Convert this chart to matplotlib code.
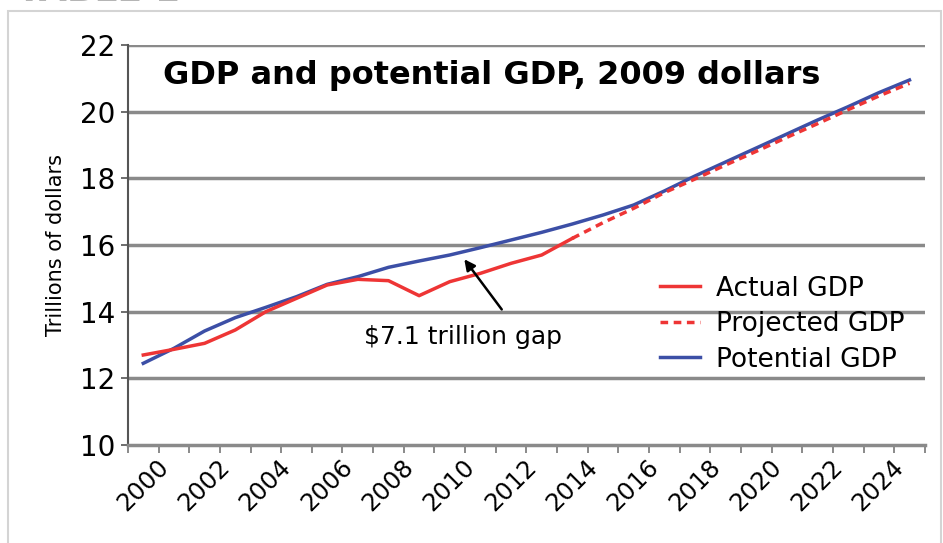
# GDP vs potential GDP line chart (2009 dollars)
import numpy as np
import matplotlib.pyplot as plt
import matplotlib.transforms as mtransforms
from matplotlib.patches import Rectangle

# data (trillions of 2009 dollars)
years = list(range(2000, 2026))
actual_years = list(range(2000, 2015))
actual_gdp = [12.70, 12.87, 13.05, 13.45, 14.00, 14.40, 14.80, 14.97, 14.93, 14.48,
              14.90, 15.15, 15.45, 15.70, 16.20]
projected_years = list(range(2014, 2026))
projected_gdp = [16.20, 16.67, 17.10, 17.57, 17.98, 18.40, 18.81, 19.23, 19.64, 20.06,
                 20.47, 20.85]
potential_gdp = [12.45, 12.90, 13.42, 13.82, 14.13, 14.45, 14.82, 15.05, 15.33, 15.52,
                 15.70, 15.92, 16.15, 16.38, 16.63, 16.90, 17.20, 17.62, 18.07, 18.49,
                 18.91, 19.33, 19.75, 20.15, 20.57, 20.95]
label_years = list(range(2000, 2025, 2))
y_ticks = [10, 12, 14, 16, 18, 20, 22]

red = '#ee3535'
blue = '#3c4fa6'
grid_gray = '#8a8a8a'

fig = plt.figure(figsize=(9.43, 5.43), dpi=100)
ax = fig.add_axes([0.1357, 0.1805, 0.845, 0.7366])

# outer frame + cut off "TABLE 1" header
fig.patches.append(Rectangle((0.008, -0.05), 0.99, 1.03, transform=fig.transFigure,
                             fill=False, edgecolor='#d4d4d4', lw=1.5))
fig.text(0.018, 0.986, 'TABLE 1', fontsize=26, fontweight='bold', color='#b5b5b5',
         ha='left', va='bottom')

# gridlines
for yv in y_ticks[1:]:
    ax.axhline(yv, color=grid_gray, lw=2.5, zorder=1)

# lines
ax.plot(actual_years, actual_gdp, color=red, lw=2.5, label='Actual GDP', zorder=3)
ax.plot(projected_years, projected_gdp, color=red, lw=2.5, ls=(0, (2.2, 1.6)),
        label='Projected GDP', zorder=3)
ax.plot(years, potential_gdp, color=blue, lw=2.5, label='Potential GDP', zorder=2)

ax.set_xlim(1999.5, 2025.5)
ax.set_ylim(10, 22)

# y axis
ax.set_yticks(y_ticks)
ax.tick_params(axis='y', labelsize=20, length=5, width=1.2, color='#555555', pad=4)
ax.set_ylabel('Trillions of dollars', fontsize=15, labelpad=10)

# x axis: tick marks between years, labels every other year
ax.set_xticks(np.arange(1999.5, 2026, 1.0))
ax.set_xticklabels([])
ax.tick_params(axis='x', which='major', length=6, width=1.2, color='#777777')
ax.set_xticks(label_years, minor=True)
ax.set_xticklabels([str(y) for y in label_years], minor=True, rotation=45,
                   ha='right', va='top', rotation_mode='anchor', fontsize=17.5)
ax.tick_params(axis='x', which='minor', length=0, pad=7)
offset = mtransforms.ScaledTranslation(13 / 100, 0, fig.dpi_scale_trans)
for lab in ax.xaxis.get_minorticklabels():
    lab.set_transform(lab.get_transform() + offset)

for s in ['top', 'right']:
    ax.spines[s].set_visible(False)
ax.spines['left'].set_color('#555555')
ax.spines['left'].set_linewidth(1.5)
ax.spines['bottom'].set_color(grid_gray)
ax.spines['bottom'].set_linewidth(2.5)

# title inside the plot
ax.text(0.044, 0.925, 'GDP and potential GDP, 2009 dollars', transform=ax.transAxes,
        fontsize=23, fontweight='bold', ha='left', va='center')

# gap annotation
ax.annotate('', xy=(2010.42, 15.64), xytext=(2011.75, 14.0),
            arrowprops=dict(arrowstyle='-|>', color='black', lw=1.8, mutation_scale=16))
ax.text(2010.42, 13.25, '$7.1 trillion gap', fontsize=18, ha='center', va='center')

leg = ax.legend(loc='upper left', bbox_to_anchor=(0.655, 0.45), frameon=False,
                fontsize=19, handlelength=1.5, handletextpad=0.6, labelspacing=0.36,
                borderaxespad=0)

fig.savefig('out.png', dpi=100)
